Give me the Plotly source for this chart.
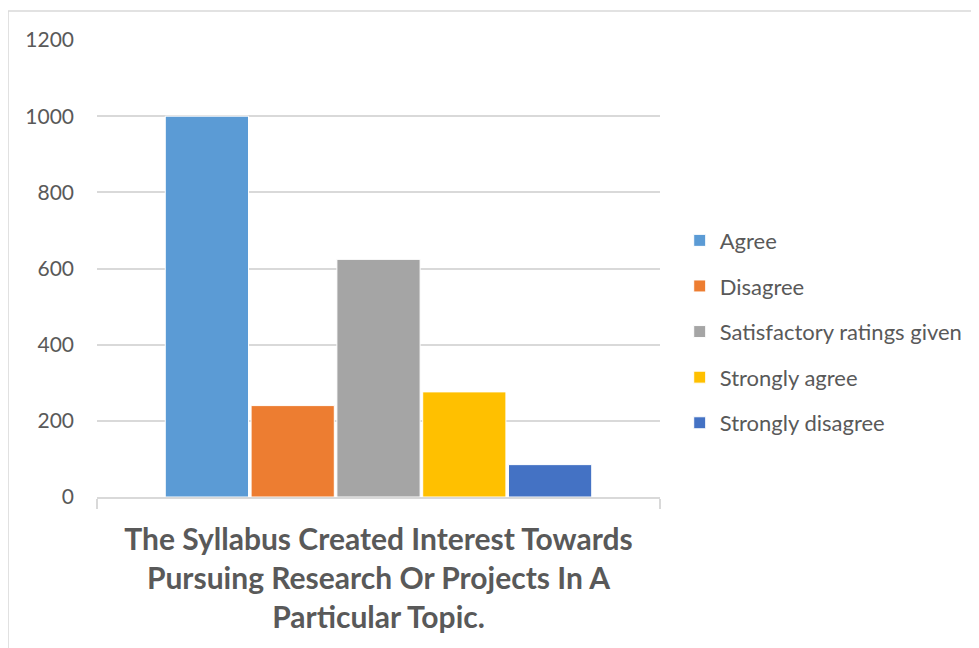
import plotly.graph_objects as go

category = ["The Syllabus Created Interest Towards<br>Pursuing Research Or Projects In A<br>Particular Topic."]
series_names = ["Agree", "Disagree", "Satisfactory ratings given", "Strongly agree", "Strongly disagree"]
series_values = [1000, 240, 624, 276, 85]
colors = ["#5B9BD5", "#ED7D31", "#A5A5A5", "#FFC000", "#4472C4"]
y_ticks = [0, 200, 400, 600, 800, 1000, 1200]

FONT = "Lato, Open Sans, sans-serif"
TXT = "#595959"

fig = go.Figure()
for i, (name, val, col) in enumerate(zip(series_names, series_values, colors)):
    fig.add_trace(go.Bar(
        x=category, y=[val], name=name, legendgroup=name,
        marker=dict(color=col, line=dict(color="white", width=1)),
    ))

fig.update_layout(
    width=979, height=648,
    margin=dict(l=89, r=327, t=32, b=159),
    paper_bgcolor="white", plot_bgcolor="white",
    barmode="group", bargap=0.238, bargroupgap=0.03,
    font=dict(family=FONT, color=TXT),
    showlegend=True,
    legend=dict(
        x=1.035, y=0.362, xanchor="left", yanchor="middle",
        font=dict(size=22, color=TXT, family=FONT),
        tracegroupgap=14, traceorder="grouped",
    ),
    shapes=[
        dict(type="line", xref="paper", yref="paper", x0=-0.158, x1=1.6, y0=1.0635, y1=1.0635,
             line=dict(color="#D9D9D9", width=1.5)),
        dict(type="line", xref="paper", yref="paper", x0=-0.158, x1=-0.158, y0=1.0635, y1=-0.4,
             line=dict(color="#D9D9D9", width=1.5)),
    ],
)

fig.update_yaxes(
    range=[0, 1200], tickvals=y_ticks, showgrid=True, gridcolor="#D9D9D9", gridwidth=1.5,
    zeroline=False, showline=False, ticks="", ticklabelstandoff=22,
    tickfont=dict(size=21, color=TXT, family=FONT),
)
fig.update_xaxes(
    type="category", showline=True, linecolor="#D9D9D9", linewidth=1.5,
    ticks="outside", tickson="boundaries", ticklen=10, tickcolor="#D9D9D9", tickwidth=1.5,
    tickfont=dict(size=30, color=TXT, family=FONT, weight="bold"),
    ticklabelstandoff=15,
)

fig.write_html("out.html")
